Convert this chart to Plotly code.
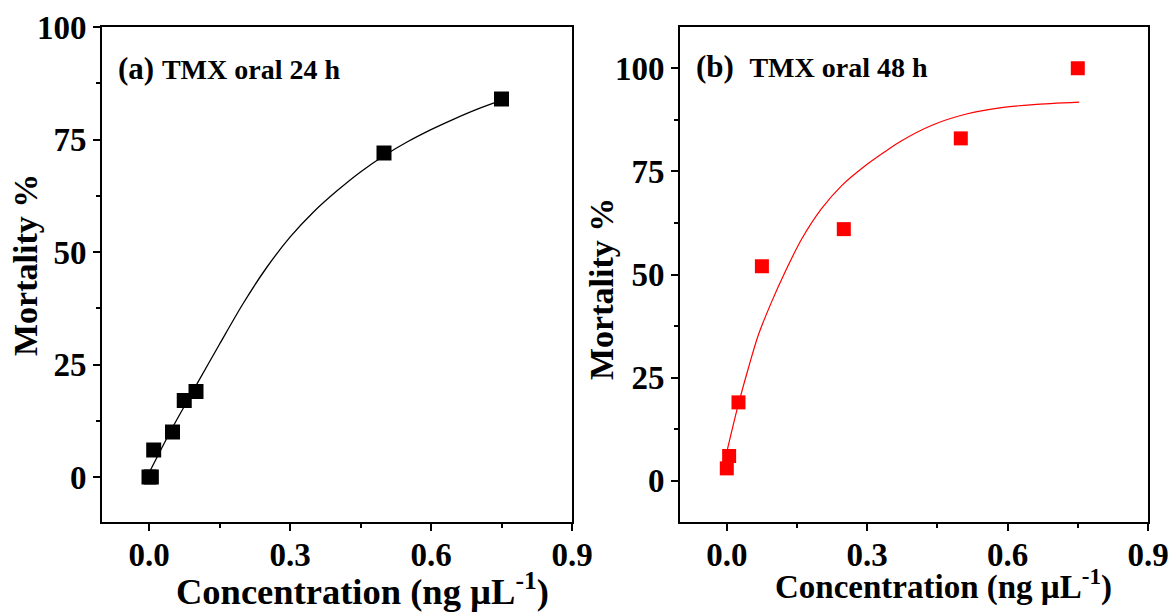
import plotly.graph_objects as go

# ---- data: panel (a) 24 h ----
conc_a = [0.0, 0.005, 0.01, 0.05, 0.075, 0.1, 0.5, 0.75]
mort_a = [0, 0, 6, 10, 17, 19, 72, 84]
fit_a_x = [0.003, 0.05, 0.1, 0.15, 0.2, 0.25, 0.3, 0.35, 0.4, 0.45, 0.5, 0.55, 0.6, 0.65, 0.7, 0.752]
fit_a_y = [1.5, 11.0, 20.3, 29.5, 38.5, 46.5, 53.3, 58.9, 63.6, 67.8, 71.4, 74.5, 77.2, 79.6, 81.8, 83.8]

# ---- data: panel (b) 48 h ----
conc_b = [0.0, 0.005, 0.025, 0.075, 0.25, 0.5, 0.75]
mort_b = [3, 6, 19, 52, 61, 83, 100]
fit_b_x = [0.0015, 0.024, 0.0456, 0.067, 0.0955, 0.124, 0.16, 0.202, 0.245, 0.295, 0.341,
           0.37, 0.441, 0.512, 0.583, 0.655, 0.753]
fit_b_y = [7.7, 18.2, 27.1, 35.2, 43.3, 50.5, 58.6, 65.9, 71.5, 76.3, 80.0,
           82.2, 86.3, 88.9, 90.4, 91.2, 91.8]

x_ticks = [0.0, 0.3, 0.6, 0.9]
x_ticklabels = ["0.0", "0.3", "0.6", "0.9"]
y_ticks = [0, 25, 50, 75, 100]
y_ticklabels = ["0", "25", "50", "75", "100"]

x_title = "<b>Concentration (ng µL<sup>-1</sup>)</b>"
y_title = "<b>Mortality %</b>"
label_a = "<b>(a)</b> <span style='font-size:28px'><b>TMX oral 24 h</b></span>"
label_b = "<b>(b)</b>  <span style='font-size:28px'><b>TMX oral 48 h</b></span>"

FONT = "Liberation Serif"
W, H = 1172, 613

def px(X):
    return X / W

def py(Y):
    return 1 - Y / H

fig = go.Figure()
fig.add_trace(go.Scatter(x=fit_a_x, y=fit_a_y, mode="lines",
                         line=dict(color="black", width=1.3, shape="spline", smoothing=0.8),
                         xaxis="x", yaxis="y", showlegend=False))
fig.add_trace(go.Scatter(x=conc_a, y=mort_a, mode="markers",
                         marker=dict(symbol="square", size=15, color="black"),
                         xaxis="x", yaxis="y", showlegend=False))
fig.add_trace(go.Scatter(x=fit_b_x, y=fit_b_y, mode="lines",
                         line=dict(color="red", width=1.2, shape="spline", smoothing=0.8),
                         xaxis="x2", yaxis="y2", showlegend=False))
fig.add_trace(go.Scatter(x=conc_b, y=mort_b, mode="markers",
                         marker=dict(symbol="square", size=14, color="red"),
                         xaxis="x2", yaxis="y2", showlegend=False))

tickfont = dict(family=FONT, size=33, color="black", weight="bold")

def xaxis(dom, anchor):
    return dict(domain=dom, anchor=anchor, range=[-0.1, 0.9],
                tickmode="array", tickvals=x_ticks, ticktext=x_ticklabels,
                ticks="outside", ticklen=7, tickwidth=2, tickcolor="black",
                minor=dict(ticks="outside", ticklen=4, tickwidth=1.5, tickcolor="black",
                           tickvals=[0.15, 0.45, 0.75]),
                showline=True, linewidth=2, linecolor="black", mirror=True,
                showgrid=False, zeroline=False, tickfont=tickfont,
                ticklabelstandoff=-5, ticklabeloverflow="allow", automargin=False)

def yaxis(dom, anchor, rng, minor_vals):
    return dict(domain=dom, anchor=anchor, range=rng,
                tickmode="array", tickvals=y_ticks, ticktext=y_ticklabels,
                ticks="outside", ticklen=7, tickwidth=2, tickcolor="black",
                minor=dict(ticks="outside", ticklen=4, tickwidth=1.5, tickcolor="black",
                           tickvals=minor_vals),
                showline=True, linewidth=2, linecolor="black", mirror=True,
                showgrid=False, zeroline=False, tickfont=tickfont, automargin=False)

def note(text, X, Y, size, xanchor="left", yanchor="middle", angle=0):
    return dict(text=text, x=px(X), y=py(Y), xref="paper", yref="paper",
                xanchor=xanchor, yanchor=yanchor, showarrow=False, textangle=angle,
                font=dict(family=FONT, size=size, color="black"))

ydom = [py(522), py(27)]
fig.update_layout(
    width=W, height=H,
    margin=dict(l=0, r=0, t=0, b=0),
    paper_bgcolor="white", plot_bgcolor="white",
    xaxis=xaxis([px(102), px(572)], "y"),
    yaxis=yaxis(ydom, "x", [-10, 100], [12.5, 37.5, 62.5, 87.5]),
    xaxis2=xaxis([px(680), px(1148)], "y2"),
    yaxis2=yaxis(ydom, "x2", [-10, 110], [12.5, 37.5, 62.5, 87.5]),
    annotations=[
        note(label_a, 116, 68, 31),
        note(label_b, 694, 66, 31),
        note(x_title, 362, 614, 36.5, xanchor="center", yanchor="bottom"),
        note(x_title, 943, 608, 33, xanchor="center", yanchor="bottom"),
        note(y_title, 25, 265, 34, xanchor="center", yanchor="middle", angle=-90),
        note(y_title, 601, 289, 34, xanchor="center", yanchor="middle", angle=-90),
    ],
)

# remove the default page margin so the figure sits at the window's top-left corner
fig.write_html("out.html", config={"displayModeBar": False},
               post_script="document.body.style.margin='0';document.body.style.overflow='hidden';")
